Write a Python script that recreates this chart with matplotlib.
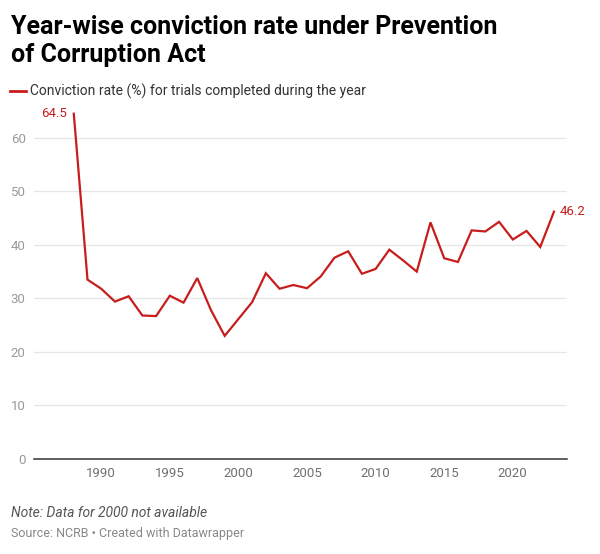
import matplotlib
matplotlib.use("Agg")
import matplotlib.pyplot as plt

plt.rcParams["font.family"] = ["Roboto", "DejaVu Sans"]

# ---------- Data (NCRB, no data for 2000) ----------
years = [1988, 1989, 1990, 1991, 1992, 1993, 1994, 1995, 1996, 1997, 1998, 1999,
         2001, 2002, 2003, 2004, 2005, 2006, 2007, 2008, 2009, 2010, 2011, 2012,
         2013, 2014, 2015, 2016, 2017, 2018, 2019, 2020, 2021, 2022, 2023]
rate = [64.5, 33.5, 31.8, 29.4, 30.4, 26.8, 26.7, 30.5, 29.2, 33.8, 27.8, 23.0,
        29.3, 34.7, 31.8, 32.5, 31.9, 34.1, 37.6, 38.8, 34.6, 35.5, 39.1, 37.1,
        35.0, 44.2, 37.5, 36.8, 42.7, 42.5, 44.3, 41.0, 42.6, 39.6, 46.2]
yticks = [0, 10, 20, 30, 40, 50, 60]
xticks = [1990, 1995, 2000, 2005, 2010, 2015, 2020]

RED = "#c71e1d"

fig = plt.figure(figsize=(6, 5.54), dpi=100)
ax = fig.add_axes([34 / 600, 95 / 554, 533 / 600, 348 / 554])

ax.plot(years, rate, color=RED, lw=1.6, solid_joinstyle="miter", clip_on=False)

ax.set_xlim(1985.1, 2023.95)
ax.set_ylim(0, 65)
ax.set_yticks(yticks)
ax.set_xticks(xticks)
ax.grid(axis="y", color="#e6e6e6", lw=0.9)
ax.set_axisbelow(True)
for s in ["top", "right", "left"]:
    ax.spines[s].set_visible(False)
ax.spines["bottom"].set_color("#333333")
ax.spines["bottom"].set_linewidth(1.1)
ax.tick_params(axis="y", length=0, pad=6, labelsize=9.5, labelcolor="#9a9a9a")
ax.tick_params(axis="x", length=0, pad=6, labelsize=9.5, labelcolor="#707070")

# end labels
ax.annotate(f"{rate[0]}", (years[0], rate[0]), xytext=(-5, 0), textcoords="offset points",
            ha="right", va="center", color=RED, fontsize=9.5, annotation_clip=False)
ax.annotate(f"{rate[-1]}", (years[-1], rate[-1]), xytext=(4, 0), textcoords="offset points",
            ha="left", va="center", color=RED, fontsize=9.5, annotation_clip=False)

# ---------- Title, legend, notes ----------
fig.text(11 / 600, 1 - 34 / 554, "Year-wise conviction rate under Prevention",
         fontsize=18, fontweight="bold", color="#000000", ha="left", va="baseline")
fig.text(11 / 600, 1 - 62 / 554, "of Corruption Act",
         fontsize=18, fontweight="bold", color="#000000", ha="left", va="baseline")
fig.lines.append(plt.Line2D([10 / 600, 26 / 600], [1 - 91 / 554, 1 - 91 / 554],
                            color=RED, lw=2, transform=fig.transFigure))
fig.text(30 / 600, 1 - 91 / 554, "Conviction rate (%) for trials completed during the year",
         fontsize=10, color="#333333", ha="left", va="center")
fig.text(11 / 600, 1 - 513 / 554, "Note: Data for 2000 not available",
         fontsize=10, style="italic", color="#555555", ha="left", va="center")
fig.text(11 / 600, 1 - 534 / 554, "Source: NCRB \u2022 Created with Datawrapper",
         fontsize=9, color="#888888", ha="left", va="center")

fig.savefig("out.png", dpi=100)
